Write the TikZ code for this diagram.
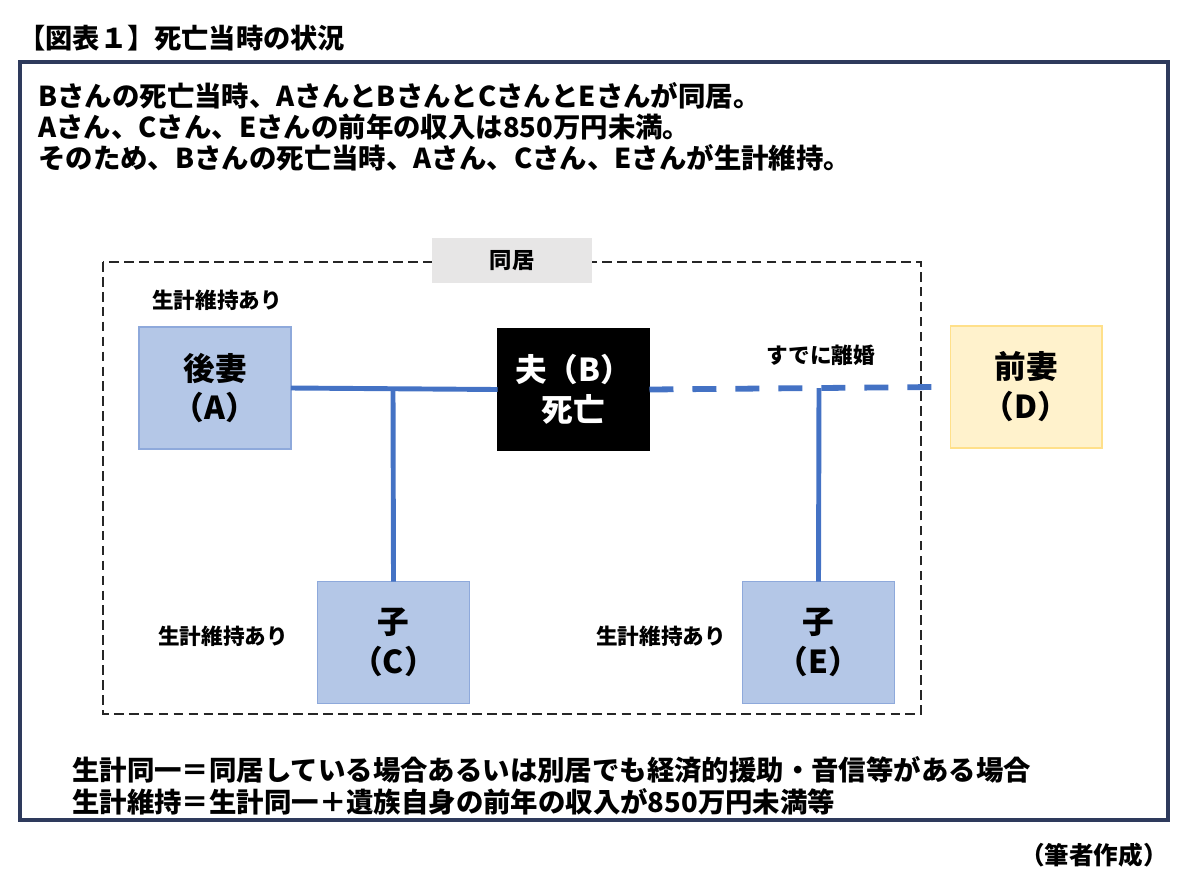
\documentclass[tikz,border=0pt]{standalone}
\usepackage{fontspec}
\setmainfont{Noto Sans CJK JP}
\definecolor{navy}{HTML}{2E3A5C}
\definecolor{linkblue}{HTML}{4472C4}
\definecolor{boxblue}{HTML}{B4C7E7}
\definecolor{boxblueline}{HTML}{8EA9DB}
\definecolor{wifefill}{HTML}{FFF2CC}
\definecolor{wifeline}{HTML}{FFE08A}
\definecolor{labelgray}{HTML}{E7E6E6}
\tikzset{
  x=0.02cm, y=-0.02cm,
  person/.style={draw=boxblueline, fill=boxblue, line width=0.6pt, minimum width=3.04cm, minimum height=2.44cm, inner sep=0pt, outer sep=0pt, align=center, font=\bfseries\fontsize{18}{22.7}\selectfont},
  deadbox/.style={person, draw=black, fill=black, text=white},
  exbox/.style={person, draw=wifeline, fill=wifefill},
  note/.style={font=\bfseries\fontsize{12.3}{14}\selectfont, inner sep=0pt},
  link/.style={draw=linkblue, line width=2.8pt},
  divorce/.style={draw=linkblue, line width=3.3pt, dash pattern=on 0.48cm off 0.38cm},
}
\begin{document}
\begin{tikzpicture}
\useasboundingbox (0,0) rectangle (1200,880);
% title
\node[anchor=west, inner sep=0pt, font=\bfseries\fontsize{15.5}{18}\selectfont] (title) at (18,38) {【図表１】死亡当時の状況};
% outer frame
\draw[navy, line width=1.8pt] (20,62) rectangle (1168,820);
% top text
\node[anchor=west, align=left, inner sep=0pt, font=\bfseries\fontsize{15.6}{17.6}\selectfont] (intro) at (38,127)
 {Bさんの死亡当時、AさんとBさんとCさんとEさんが同居。\\
  Aさん、Cさん、Eさんの前年の収入は850万円未満。\\
  そのため、Bさんの死亡当時、Aさん、Cさん、Eさんが生計維持。};
% cohabitation area
\draw[line width=0.6pt, draw=black!85, dash pattern=on 5.5pt off 3pt] (103,262) rectangle (921,714);
\node[fill=labelgray, minimum width=3.2cm, minimum height=0.9cm, inner sep=0pt, font=\bfseries\fontsize{12.7}{14}\selectfont] (doukyo) at (512,260.5) {同居};
% persons
\node[person] (A) at (215,388) {後妻\\（A）};
\node[deadbox] (B) at (573.5,389.5) {夫（B）\\死亡};
\node[exbox] (D) at (1026,387) {前妻\\（D）};
\node[person] (C) at (393.5,642.5) {子\\（C）};
\node[person] (E) at (818.5,642.5) {子\\（E）};
% labels
\node[note] (lA) at (217,300) {生計維持あり};
\node[note] (lC) at (223,636) {生計維持あり};
\node[note] (lE) at (661,636) {生計維持あり};
\node[note] (div) at (821,355) {すでに離婚};
% connectors
\coordinate (jC) at (393,389);
\coordinate (jE) at (819,388);
\coordinate (dEnd) at (934,387);
\draw[link] (A.east) -- (B.west);
\draw[link] (jC) -- (C.north);
\draw[divorce] (B.east) -- (dEnd);
\draw[link] (jE) -- (E.north);
% bottom text
\node[anchor=west, align=left, inner sep=0pt, font=\bfseries\fontsize{15.6}{18.1}\selectfont] (defs) at (72,786)
 {生計同一＝同居している場合あるいは別居でも経済的援助・音信等がある場合\\
  生計維持＝生計同一＋遺族自身の前年の収入が850万円未満等};
\node[anchor=east, inner sep=0pt, font=\bfseries\fontsize{14}{16}\selectfont] (src) at (1168,855) {（筆者作成）};
\end{tikzpicture}
\end{document}
